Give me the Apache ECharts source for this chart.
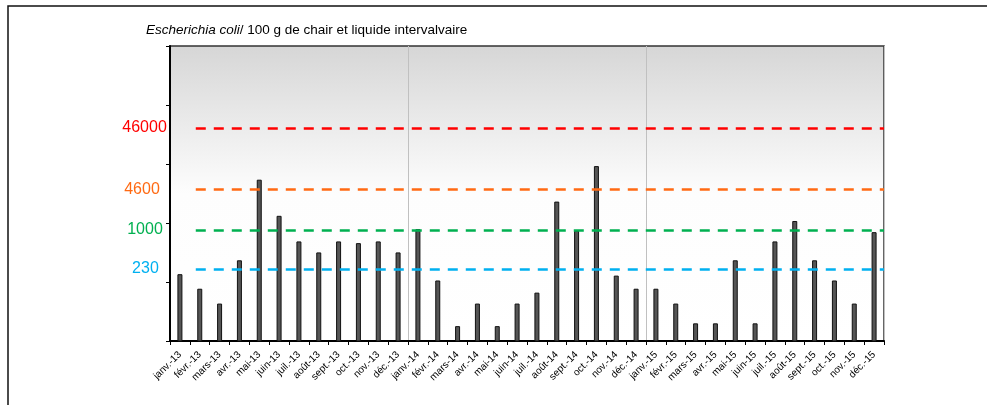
<!DOCTYPE html>
<html>
<head>
<meta charset="utf-8">
<script src="https://cdn.jsdelivr.net/npm/echarts@6/dist/echarts.min.js"></script>
<style>
html,body{margin:0;padding:0;background:#fff;}
#chart{width:987px;height:405px;}
</style>
</head>
<body>
<div id="chart"></div>
<script>
var categories = ['janv.-13','févr.-13','mars-13','avr.-13','mai-13','juin-13','juil.-13','août-13','sept.-13','oct.-13','nov.-13','déc.-13',
  'janv.-14','févr.-14','mars-14','avr.-14','mai-14','juin-14','juil.-14','août-14','sept.-14','oct.-14','nov.-14','déc.-14',
  'janv.-15','févr.-15','mars-15','avr.-15','mai-15','juin-15','juil.-15','août-15','sept.-15','oct.-15','nov.-15','déc.-15'];
var ecoliValues = [190,110,63,320,6600,1700,650,430,650,610,650,430,
  1030,150,27,63,27,63,95,2900,980,11000,180,110,
  110,63,30,30,320,30,650,1400,320,150,63,920];
var thresholdValues = [46000, 4600, 1000, 230];
var thresholdLabels = ['46000', '4600', '1000', '230'];
var thresholdColors = ['#ff0000', '#ff6a13', '#00b050', '#00b0f0'];
// threshold lines run (in month units) from this start to the end of the period
var thresholdStartMonth = 1.3;
var thresholdEndMonth = 36;
var titleItalic = 'Escherichia coli';
var titleRest = '/ 100 g de chair et liquide intervalvaire';

var FONT = 'Liberation Sans, Arial, sans-serif';
var labelGap = [29, 36, 33, 37];
var chart = echarts.init(document.getElementById('chart'), null, {renderer: 'canvas'});

var markLineData = thresholdValues.map(function (v, i) {
  return [
    {coord: [thresholdStartMonth, v], name: thresholdLabels[i],
     lineStyle: {color: thresholdColors[i]},
     label: {color: thresholdColors[i], distance: labelGap[i]}},
    {coord: [thresholdEndMonth, v]}
  ];
});

var option = {
  animation: false,
  textStyle: {fontFamily: FONT},
  title: {
    text: '{i|' + titleItalic + '}' + titleRest,
    left: 141, top: 18,
    textStyle: {fontSize: 13.5, fontWeight: 'normal', color: '#000', fontFamily: FONT,
      rich: {i: {fontStyle: 'italic', fontSize: 13.5, color: '#000', fontFamily: FONT}}}
  },
  graphic: [{
    type: 'rect', silent: true, z: -10,
    shape: {x: 8, y: 6, width: 1000, height: 430},
    style: {fill: 'none', stroke: '#111', lineWidth: 1.5}
  }],
  grid: {
    left: 170, right: 103, top: 46, bottom: 64,
    show: true,
    borderColor: '#333', borderWidth: 1.5,
    backgroundColor: new echarts.graphic.LinearGradient(0, 0, 0, 1, [
      {offset: 0, color: '#d6d6d6'},
      {offset: 0.5, color: '#fdfdfd'},
      {offset: 1, color: '#ffffff'}
    ])
  },
  xAxis: [{
    type: 'category',
    data: categories,
    boundaryGap: true,
    axisLine: {lineStyle: {color: '#000', width: 2}},
    axisTick: {show: true, length: 4, lineStyle: {color: '#000', width: 1}},
    axisLabel: {interval: 0, rotate: 45, fontSize: 10, color: '#000', margin: 12, fontFamily: FONT},
    splitLine: {show: true, interval: function (idx) { return idx === 12 || idx === 24; },
      lineStyle: {color: '#c0c0c0', width: 1}}
  }, {
    type: 'value',
    min: 0, max: categories.length,
    show: false
  }],
  yAxis: [{
    type: 'log',
    logBase: 10,
    min: 15.45,
    max: 1000000,
    axisLine: {show: false},
    axisTick: {show: false},
    axisLabel: {show: false},
    splitLine: {show: false}
  }, {
    type: 'value',
    min: 0, max: 5, interval: 1,
    position: 'left',
    axisLine: {show: true, lineStyle: {color: '#000', width: 2}},
    axisTick: {show: true, length: 4, lineStyle: {color: '#000', width: 1}},
    axisLabel: {show: false},
    splitLine: {show: false}
  }],
  series: [{
    type: 'bar',
    xAxisIndex: 0,
    yAxisIndex: 0,
    data: ecoliValues,
    barWidth: 5,
    itemStyle: {color: '#555555', borderColor: '#111', borderWidth: 1}
  }, {
    type: 'line',
    xAxisIndex: 1,
    yAxisIndex: 0,
    data: [],
    markLine: {
      silent: true,
      symbol: ['none', 'none'],
      lineStyle: {type: [10, 8], width: 2.6},
      label: {show: true, position: 'start', formatter: '{b}', fontSize: 16, fontFamily: FONT},
      data: markLineData
    }
  }]
};
chart.setOption(option);
</script>
</body>
</html>
